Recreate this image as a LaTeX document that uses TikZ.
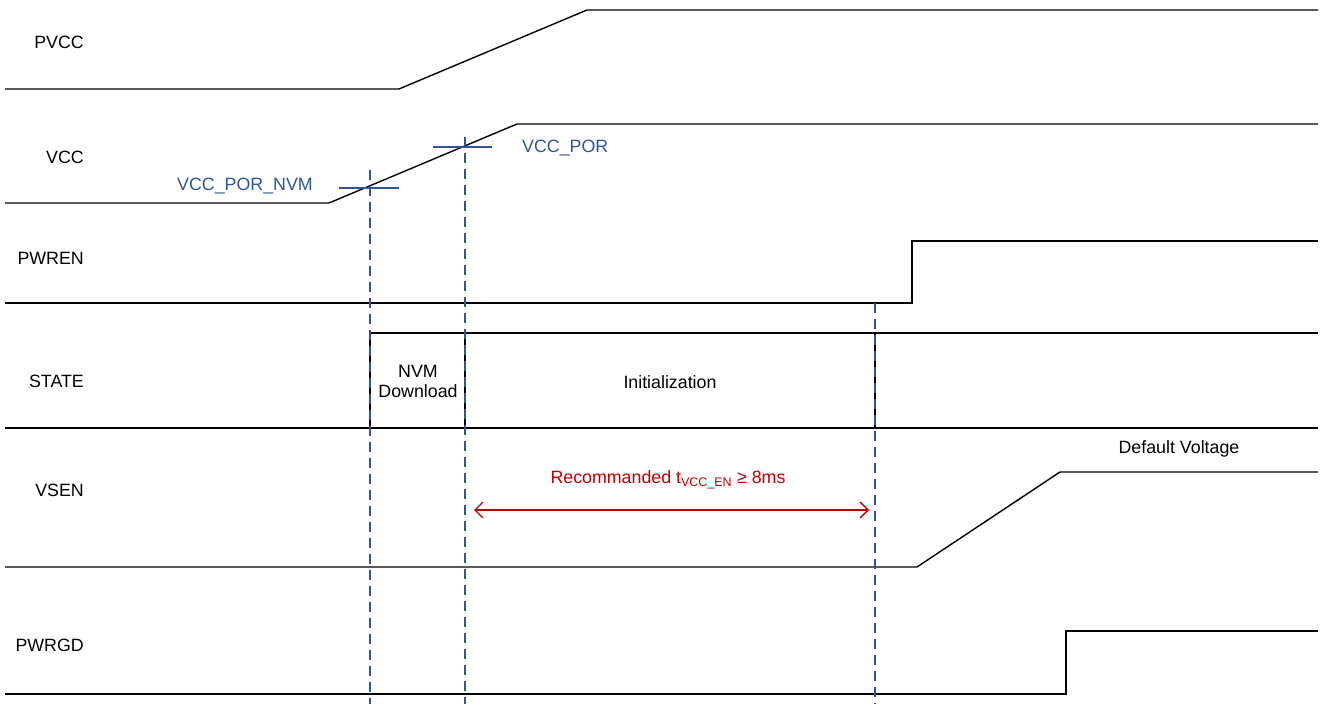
\documentclass[tikz,border=0pt]{standalone}
\usepackage{fontspec}
\setmainfont{Liberation Sans}
\usepackage{tikz}
\usetikzlibrary{arrows.meta, positioning}

\definecolor{markblue}{RGB}{47,85,151}
\definecolor{markred}{RGB}{192,0,0}

\begin{document}
\begin{tikzpicture}[
            x=1pt, y=-1pt,
            font=\fontsize{17.8}{20}\selectfont,
            sig_name/.style={anchor=east, inner sep=0pt},
            sig_line/.style={line width=1.4pt, black},
            mark_line/.style={line width=1.4pt, markblue},
            time_line/.style={line width=1.3pt, markblue, dash pattern=on 10pt off 6pt},
            mark_text/.style={text=markblue, inner sep=0pt},
            state_text/.style={align=center, inner sep=0pt, font=\fontsize{17.8}{20}\selectfont},
            span_arrow/.style={line width=1.3pt, markred, {Straight Barb[length=8pt, width=16pt]}-{Straight Barb[length=8pt, width=16pt]}}
        ]
            \useasboundingbox (0,0) rectangle (1326,706);
            % Signal names
            \node[sig_name] (pvcc) at (84,42) {PVCC};
            \node[sig_name] (vcc) at (84,157) {VCC};
            \node[sig_name] (pwren) at (84,258) {PWREN};
            \node[sig_name] (state) at (84,381) {STATE};
            \node[sig_name] (vsen) at (84,490) {VSEN};
            \node[sig_name] (pwrgd) at (84,645) {PWRGD};

            % Waveforms
            \draw[sig_line] (5,89) -- (399,89) -- (587,10) -- (1318,10);
            \draw[sig_line] (5,203) -- (329,203) -- (517,124) -- (1318,124);
            \draw[sig_line] (5,303) -- (912,303) -- (912,241) -- (1318,241);
            \draw[sig_line] (370,333) -- (1318,333);
            \draw[sig_line] (5,428) -- (1318,428);
            \draw[sig_line] (370,333) -- (370,428);
            \draw[sig_line] (465,333) -- (465,428);
            \draw[sig_line] (875,333) -- (875,428);
            \draw[sig_line] (5,567) -- (917,567) -- (1060,472) -- (1318,472);
            \draw[sig_line] (5,694) -- (1066,694) -- (1066,631) -- (1318,631);

            % Thresholds on VCC
            \draw[mark_line] (339,188) -- (399,188);
            \draw[mark_line] (433,147) -- (492,147);
            \node[mark_text] (por_nvm) at (245,186) {VCC\_POR\_NVM};
            \node[mark_text, anchor=west] (por) at (522,148) {VCC\_POR};

            % Time markers
            \draw[time_line] (370,170) -- (370,704);
            \draw[time_line] (465,137) -- (465,704);
            \draw[time_line] (875,303) -- (875,704);

            % States
            \node[state_text] (nvm) at (418,381) {NVM\\Download};
            \node[state_text] (init) at (670,382) {Initialization};
            \node[inner sep=0pt] (dflt) at (1179,449) {Default Voltage};

            % Recommended enable delay
            \coordinate (span_l) at (474,510);
            \coordinate (span_r) at (869,510);
            \draw[span_arrow] (span_l) -- (span_r);
            \node[text=markred, inner sep=0pt] (ten) at (668,480) {Recommanded t\textsubscript{VCC\_EN} ≥ 8ms};
        \end{tikzpicture}
\end{document}
